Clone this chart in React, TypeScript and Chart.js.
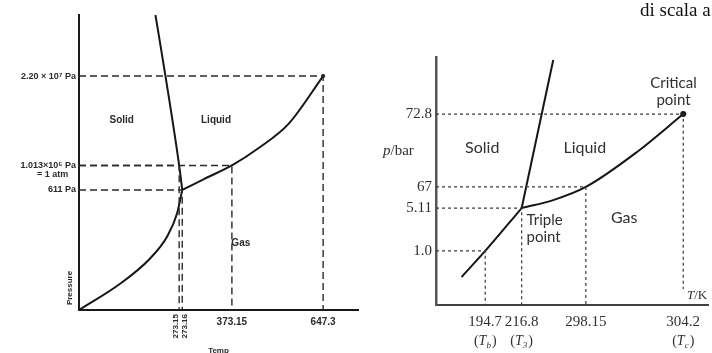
import React, { useEffect, useRef } from "react";
import { Chart, registerables } from "chart.js";

Chart.register(...registerables);

// ---------- Water phase diagram (left, schematic axis units 0..100) ----------
const waterTempLabels = ["273.15", "273.16", "373.15", "647.3"];
const waterTempPos = [35.9, 37.0, 54.8, 87.5];
const waterTempVertical = [true, true, false, false];
const waterPresLabels = ["2.20 × 10⁷ Pa", "1.013×10⁵ Pa", "611 Pa"];
const waterPresNote = ["", "= 1 atm", ""];
const waterPresPos = [79.3, 49.0, 40.7];
const waterSublimT = [0, 14.6, 25.3, 31.7, 35.2, 37.0];
const waterSublimP = [0, 8.8, 17.3, 25.1, 32.9, 40.7];
const waterFusionT = [27.4, 31.0, 35.9, 37.0];
const waterFusionP = [100, 79.3, 49.0, 40.7];
const waterVapT = [37.0, 44.8, 54.8, 64.4, 75.1, 87.5];
const waterVapP = [40.7, 44.4, 49.0, 54.9, 63.1, 79.3];
const waterGuideT = [87.5, 54.8, 37.0, 35.9];
const waterGuideP = [79.3, 49.0, 40.7, 49.0];
const waterRegions = ["Solid", "Liquid", "Gas"];
const waterRegionT = [15.3, 49.1, 58.0];
const waterRegionP = [64.4, 64.4, 22.7];

// ---------- CO2 phase diagram (right, schematic axis units 0..100) ----------
const co2TempLabels = ["194.7", "216.8", "298.15", "304.2"];
const co2TempSymbols = ["b", "3", "", "c"];
const co2TempPos = [18.1, 31.5, 55.1, 90.9];
const co2PresLabels = ["72.8", "67", "5.11", "1.0"];
const co2PresPos = [77.0, 47.6, 39.1, 21.8];
const co2SublimT = [9.4, 18.1, 31.5];
const co2SublimP = [11.3, 21.8, 39.1];
const co2FusionT = [31.5, 43.1];
const co2FusionP = [39.1, 98.8];
const co2VapT = [31.5, 43.1, 55.1, 73.9, 90.9];
const co2VapP = [39.1, 42.3, 47.6, 61.7, 77.0];
const co2GuideT = [18.1, 31.5, 55.1, 90.9];
const co2GuideP = [21.8, 39.1, 47.6, 77.0];
const co2Regions = ["Solid", "Liquid", "Gas"];
const co2RegionT = [17.0, 54.7, 69.2];
const co2RegionP = [63.3, 63.3, 35.1];
const co2NoteLines = [["Triple", "point"], ["Critical", "point"]];
const co2NoteT = [33.3, 87.3];
const co2NoteP = [34.3, 89.5];

const INK = "#161616";
const SANS = '"Liberation Sans", Arial, sans-serif';
const SERIF = '"Liberation Serif", "Times New Roman", serif';

const pts = (xs: number[], ys: number[]) => xs.map((x, i) => ({ x, y: ys[i] }));

function curve(xs: number[], ys: number[], width: number) {
  return {
    data: pts(xs, ys),
    showLine: true,
    borderColor: INK,
    borderWidth: width,
    pointRadius: 0,
    cubicInterpolationMode: "monotone",
    fill: false,
  };
}

function guides(ts: number[], ps: number[], dash: number[], color: string, width: number) {
  return ts.map((t, i) => ({
    data: [
      { x: 0, y: ps[i] },
      { x: t, y: ps[i] },
      { x: t, y: 0 },
    ],
    showLine: true,
    borderColor: color,
    borderWidth: width,
    borderDash: dash,
    pointRadius: 0,
    tension: 0,
    fill: false,
  }));
}

function dot(xs: number[], ys: number[], r: number) {
  const n = xs.length - 1;
  return {
    data: [{ x: xs[n], y: ys[n] }],
    showLine: false,
    pointRadius: r,
    pointBackgroundColor: INK,
    pointBorderWidth: 0,
  };
}

const waterText = {
  id: "waterText",
  afterDraw(chart: any) {
    const { ctx, chartArea } = chart;
    const x = chart.scales.x;
    const y = chart.scales.y;
    ctx.save();
    ctx.fillStyle = "#2a2a2a";
    ctx.font = `bold 10px ${SANS}`;
    ctx.textAlign = "center";
    ctx.textBaseline = "middle";
    waterRegions.forEach((t, i) =>
      ctx.fillText(t, x.getPixelForValue(waterRegionT[i]), y.getPixelForValue(waterRegionP[i]))
    );
    // note under a pressure tick
    ctx.font = `bold 9px ${SANS}`;
    ctx.textAlign = "left";
    waterPresNote.forEach((t, i) => {
      if (!t) return;
      ctx.fillText(t, chartArea.left - 42, y.getPixelForValue(waterPresPos[i]) + 9);
    });
    // vertical temperature labels
    const vIdx = waterTempVertical.map((v, i) => (v ? i : -1)).filter((i) => i >= 0);
    const mean = vIdx.reduce((s, i) => s + x.getPixelForValue(waterTempPos[i]), 0) / vIdx.length;
    ctx.font = `bold 8px ${SANS}`;
    vIdx.forEach((i, k) => {
      const cx = mean + (k - (vIdx.length - 1) / 2) * 9;
      ctx.save();
      ctx.translate(cx, chartArea.bottom + 4);
      ctx.rotate(-Math.PI / 2);
      ctx.textAlign = "right";
      ctx.textBaseline = "middle";
      ctx.fillText(waterTempLabels[i], 0, 0);
      ctx.restore();
    });
    // axis title "Pressure"
    ctx.save();
    ctx.translate(chartArea.left - 9, chartArea.bottom - 22);
    ctx.rotate(-Math.PI / 2);
    ctx.textAlign = "center";
    ctx.textBaseline = "middle";
    ctx.font = `bold 8px ${SANS}`;
    ctx.fillText("Pressure", 0, 0);
    ctx.restore();
    ctx.restore();
  },
};

const co2Text = {
  id: "co2Text",
  afterDraw(chart: any) {
    const { ctx, chartArea } = chart;
    const x = chart.scales.x;
    const y = chart.scales.y;
    ctx.save();
    ctx.fillStyle = "#303030";
    ctx.font = `16px Lato, "Open Sans", sans-serif`;
    ctx.textAlign = "center";
    ctx.textBaseline = "middle";
    co2Regions.forEach((t, i) =>
      ctx.fillText(t, x.getPixelForValue(co2RegionT[i]), y.getPixelForValue(co2RegionP[i]))
    );
    ctx.font = `15px Lato, "Open Sans", sans-serif`;
    co2NoteLines.forEach((lines, i) => {
      const px = x.getPixelForValue(co2NoteT[i]);
      const py = y.getPixelForValue(co2NoteP[i]);
      ctx.textAlign = i === 0 ? "left" : "center";
      lines.forEach((l, k) => ctx.fillText(l, px, py + k * 17));
    });
    // temperature symbols row
    co2TempSymbols.forEach((s, i) => {
      if (!s) return;
      const cx = x.getPixelForValue(co2TempPos[i]);
      const by = chartArea.bottom + 40;
      const fN = `14px ${SERIF}`;
      const fI = `italic 14px ${SERIF}`;
      const fS = `italic 9px ${SERIF}`;
      ctx.font = fN;
      const wP = ctx.measureText("(").width;
      const wC = ctx.measureText(")").width;
      ctx.font = fI;
      const wT = ctx.measureText("T").width;
      ctx.font = fS;
      const wS = ctx.measureText(s).width;
      const total = wP + wT + wS + wC + 1;
      let cur = cx - total / 2;
      ctx.textAlign = "left";
      ctx.textBaseline = "alphabetic";
      ctx.font = fN;
      ctx.fillText("(", cur, by);
      cur += wP;
      ctx.font = fI;
      ctx.fillText("T", cur, by);
      cur += wT;
      ctx.font = fS;
      ctx.fillText(s, cur, by + 3);
      cur += wS + 1;
      ctx.font = fN;
      ctx.fillText(")", cur, by);
    });
    // y axis title p/bar
    ctx.textBaseline = "middle";
    ctx.textAlign = "left";
    const ty = y.getPixelForValue(62);
    ctx.font = `italic 15px ${SERIF}`;
    const wp = ctx.measureText("p").width;
    const sx = chartArea.left - 53;
    ctx.fillText("p", sx, ty);
    ctx.font = `15px ${SERIF}`;
    ctx.fillText("/bar", sx + wp, ty);
    // x axis title T/K in a white box
    ctx.fillStyle = "#ffffff";
    ctx.fillRect(chartArea.right - 29, chartArea.bottom - 16, 29, 14);
    ctx.fillStyle = "#303030";
    ctx.font = `italic 13px ${SERIF}`;
    const wt = ctx.measureText("T").width;
    const kx = chartArea.right - 21;
    ctx.fillText("T", kx, chartArea.bottom - 9);
    ctx.font = `13px ${SERIF}`;
    ctx.fillText("/K", kx + wt, chartArea.bottom - 9);
    ctx.restore();
  },
};

function waterConfig(): any {
  return {
    type: "scatter",
    data: {
      datasets: [
        ...guides(waterGuideT, waterGuideP, [7, 4], "#2a2a2a", 1.4),
        curve(waterSublimT, waterSublimP, 2),
        curve(waterFusionT, waterFusionP, 2),
        curve(waterVapT, waterVapP, 2),
        dot(waterVapT, waterVapP, 2),
      ],
    },
    options: {
      animation: false,
      responsive: false,
      devicePixelRatio: 1,
      events: [],
      layout: { padding: { top: 15, right: 2, left: 0, bottom: 0 } },
      plugins: { legend: { display: false }, tooltip: { enabled: false } },
      scales: {
        x: {
          type: "linear",
          min: 0,
          max: 100,
          afterBuildTicks: (s: any) => {
            s.ticks = waterTempPos.map((v) => ({ value: v }));
          },
          afterFit: (s: any) => {
            s.height = 43;
          },
          grid: { display: false, drawTicks: false },
          border: { display: true, color: "#1a1a1a", width: 2 },
          ticks: {
            autoSkip: false,
            maxRotation: 0,
            minRotation: 0,
            padding: 6,
            color: "#2a2a2a",
            font: { family: SANS, size: 10, weight: "bold" },
            callback: (_v: any, i: number) => (waterTempVertical[i] ? "" : waterTempLabels[i]),
          },
          title: {
            display: true,
            text: "Temp",
            color: "#2a2a2a",
            font: { family: SANS, size: 8, weight: "bold" },
            padding: { top: 0, bottom: -3 },
          },
        },
        y: {
          type: "linear",
          min: 0,
          max: 100,
          afterBuildTicks: (s: any) => {
            s.ticks = waterPresPos.map((v) => ({ value: v }));
          },
          afterFit: (s: any) => {
            s.width = 79;
          },
          grid: { display: false, drawTicks: false },
          border: { display: true, color: "#1a1a1a", width: 2 },
          ticks: {
            autoSkip: false,
            padding: 3,
            color: "#2a2a2a",
            font: { family: SANS, size: 9, weight: "bold" },
            callback: (_v: any, i: number) => waterPresLabels[i],
          },
        },
      },
    },
    plugins: [waterText],
  };
}

function co2Config(): any {
  return {
    type: "scatter",
    data: {
      datasets: [
        ...guides(co2GuideT, co2GuideP, [3, 3], "#3a3a3a", 1.2),
        curve(co2SublimT, co2SublimP, 2),
        curve(co2FusionT, co2FusionP, 2),
        curve(co2VapT, co2VapP, 2),
        dot(co2VapT, co2VapP, 3),
      ],
    },
    options: {
      animation: false,
      responsive: false,
      devicePixelRatio: 1,
      events: [],
      layout: { padding: { top: 57, right: 0, left: 0, bottom: 0 } },
      plugins: { legend: { display: false }, tooltip: { enabled: false } },
      scales: {
        x: {
          type: "linear",
          min: 0,
          max: 100,
          afterBuildTicks: (s: any) => {
            s.ticks = co2TempPos.map((v) => ({ value: v }));
          },
          afterFit: (s: any) => {
            s.height = 48;
          },
          grid: { display: false, drawTicks: false },
          border: { display: true, color: "#404040", width: 2 },
          ticks: {
            autoSkip: false,
            maxRotation: 0,
            minRotation: 0,
            padding: 8,
            color: "#303030",
            font: { family: SERIF, size: 15 },
            callback: (_v: any, i: number) => co2TempLabels[i],
          },
        },
        y: {
          type: "linear",
          min: 0,
          max: 100,
          afterBuildTicks: (s: any) => {
            s.ticks = co2PresPos.map((v) => ({ value: v }));
          },
          afterFit: (s: any) => {
            s.width = 74;
          },
          grid: { display: false, drawTicks: false },
          border: { display: true, color: "#555555", width: 2.5 },
          ticks: {
            autoSkip: false,
            padding: 4,
            color: "#303030",
            font: { family: SERIF, size: 15 },
            callback: (_v: any, i: number) => co2PresLabels[i],
          },
        },
      },
    },
    plugins: [co2Text],
  };
}

export default function App() {
  const leftRef = useRef<HTMLCanvasElement>(null);
  const rightRef = useRef<HTMLCanvasElement>(null);

  useEffect(() => {
    const c1 = new Chart(leftRef.current as HTMLCanvasElement, waterConfig());
    const c2 = new Chart(rightRef.current as HTMLCanvasElement, co2Config());
    return () => {
      c1.destroy();
      c2.destroy();
    };
  }, []);

  return (
    <div
      style={{
        position: "absolute",
        left: 0,
        top: 0,
        width: 712,
        height: 353,
        overflow: "hidden",
        background: "#ffffff",
      }}
    >
      <canvas
        ref={leftRef}
        width={362}
        height={353}
        style={{ position: "absolute", left: 0, top: 0, width: 362, height: 353 }}
      />
      <canvas
        ref={rightRef}
        width={350}
        height={353}
        style={{ position: "absolute", left: 362, top: 0, width: 350, height: 353 }}
      />
      <div
        style={{
          position: "absolute",
          left: 640,
          top: 0,
          fontFamily: SERIF,
          fontSize: 19,
          lineHeight: "20px",
          whiteSpace: "nowrap",
          color: "#111111",
        }}
      >
        di scala a
      </div>
    </div>
  );
}
